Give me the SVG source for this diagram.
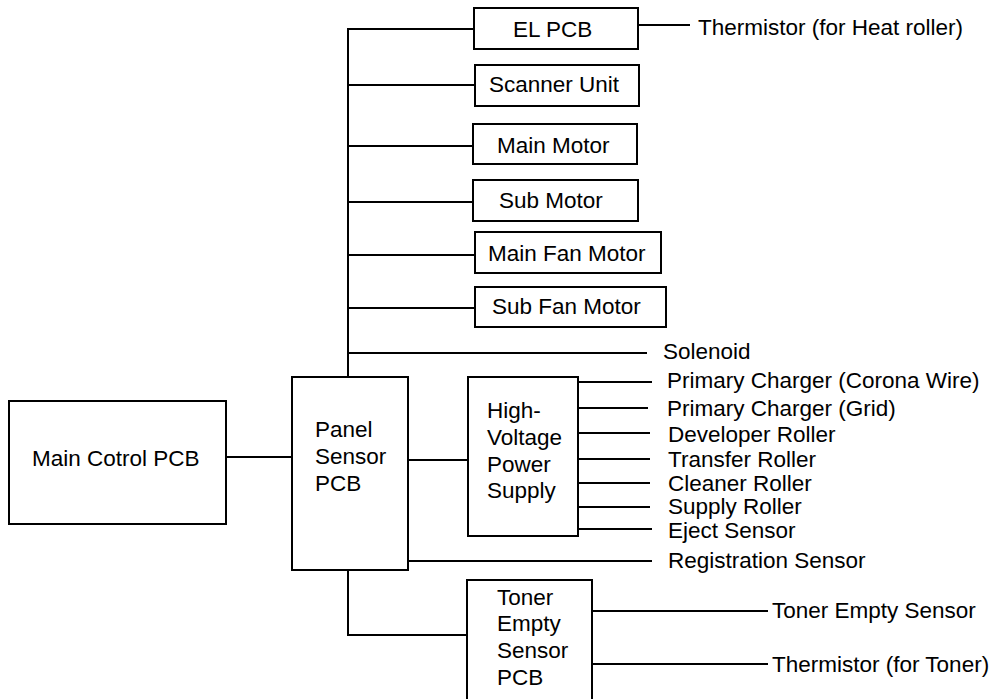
<svg xmlns="http://www.w3.org/2000/svg" width="997" height="699" viewBox="0 0 997 699">
<style>
  .box { fill: #fff; stroke: #000; stroke-width: 2; }
  .ln { fill: none; stroke: #000; stroke-width: 2; }
  text { font-family: "Liberation Sans", Arial, sans-serif; font-size: 22.5px; fill: #000; }
</style>
<rect width="997" height="699" fill="#fff"/>
<g id="connectors">
  <path class="ln" d="M348,377 V29 H474"/>
  <path class="ln" d="M348,85 H475"/>
  <path class="ln" d="M348,146 H473"/>
  <path class="ln" d="M348,202 H473"/>
  <path class="ln" d="M348,255 H475"/>
  <path class="ln" d="M348,308 H475"/>
  <path class="ln" d="M348,353 H647"/>
  <path class="ln" d="M638,25 H690"/>
  <path class="ln" d="M226,457 H292"/>
  <path class="ln" d="M408,460 H468"/>
  <path class="ln" d="M578,382 H652"/>
  <path class="ln" d="M578,408 H648"/>
  <path class="ln" d="M578,433 H650"/>
  <path class="ln" d="M578,459 H650"/>
  <path class="ln" d="M578,483 H650"/>
  <path class="ln" d="M578,507 H650"/>
  <path class="ln" d="M578,529 H652"/>
  <path class="ln" d="M408,561 H652"/>
  <path class="ln" d="M348,570 V635 H467"/>
  <path class="ln" d="M592,611 H768"/>
  <path class="ln" d="M592,664 H768"/>
</g>
<g id="main-control-pcb">
  <rect class="box" x="9" y="401" width="217" height="123"/>
  <text x="32" y="466">Main Cotrol PCB</text>
</g>
<g id="panel-sensor-pcb">
  <rect class="box" x="292" y="377" width="116" height="193"/>
  <text x="315" y="437">Panel</text>
  <text x="315" y="464">Sensor</text>
  <text x="315" y="491">PCB</text>
</g>
<g id="el-pcb">
  <rect class="box" x="474" y="8" width="164" height="41"/>
  <text x="513" y="37">EL PCB</text>
</g>
<g id="thermistor-heat">
  <text x="698" y="35">Thermistor (for Heat roller)</text>
</g>
<g id="scanner-unit">
  <rect class="box" x="475" y="65" width="164" height="41"/>
  <text x="489" y="92">Scanner Unit</text>
</g>
<g id="main-motor">
  <rect class="box" x="473" y="124" width="164" height="40"/>
  <text x="497" y="153">Main Motor</text>
</g>
<g id="sub-motor">
  <rect class="box" x="473" y="180" width="165" height="41"/>
  <text x="499" y="208">Sub Motor</text>
</g>
<g id="main-fan-motor">
  <rect class="box" x="475" y="232" width="186" height="41"/>
  <text x="488" y="261">Main Fan Motor</text>
</g>
<g id="sub-fan-motor">
  <rect class="box" x="475" y="287" width="191" height="40"/>
  <text x="492" y="314">Sub Fan Motor</text>
</g>
<g id="solenoid">
  <text x="663" y="359">Solenoid</text>
</g>
<g id="hvps">
  <rect class="box" x="468" y="377" width="110" height="159"/>
  <text x="487" y="418">High-</text>
  <text x="487" y="445">Voltage</text>
  <text x="487" y="472">Power</text>
  <text x="487" y="498">Supply</text>
</g>
<g id="hv-outputs">
  <text x="667" y="388">Primary Charger (Corona Wire)</text>
  <text x="667" y="416">Primary Charger (Grid)</text>
  <text x="668" y="442">Developer Roller</text>
  <text x="668" y="467">Transfer Roller</text>
  <text x="668" y="491">Cleaner Roller</text>
  <text x="668" y="514">Supply Roller</text>
  <text x="668" y="538">Eject Sensor</text>
</g>
<g id="registration-sensor">
  <text x="668" y="568">Registration Sensor</text>
</g>
<g id="toner-empty-sensor-pcb">
  <rect class="box" x="467" y="580" width="125" height="130"/>
  <text x="497" y="605">Toner</text>
  <text x="497" y="631">Empty</text>
  <text x="497" y="658">Sensor</text>
  <text x="497" y="685">PCB</text>
</g>
<g id="toner-empty-sensor">
  <text x="772" y="618">Toner Empty Sensor</text>
</g>
<g id="thermistor-toner">
  <text x="772" y="672">Thermistor (for Toner)</text>
</g>
</svg>
